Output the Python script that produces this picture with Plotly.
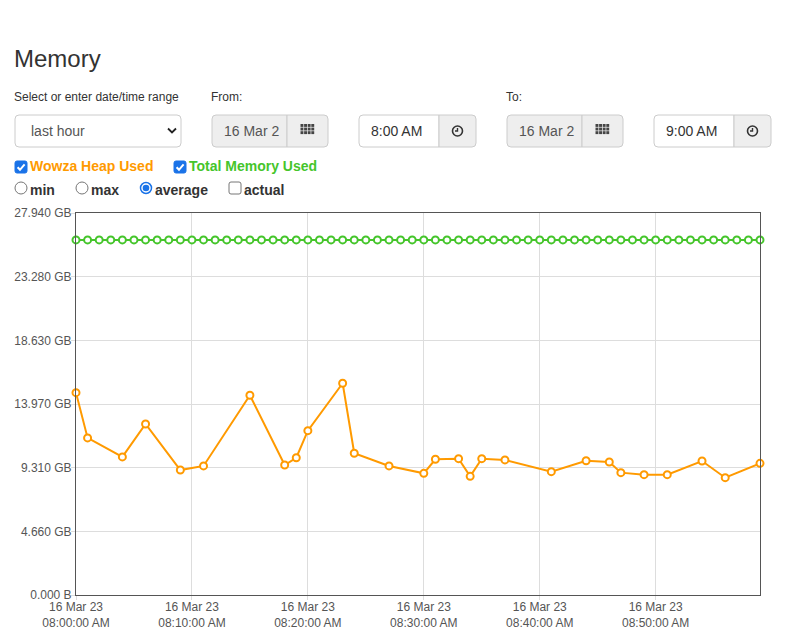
import plotly.graph_objects as go

# minutes after 08:00 on 16 Mar 23
heap_minutes = [0, 1, 4, 6, 9, 11, 15, 18, 19, 20, 23, 24, 27, 30, 31, 33, 34, 35,
                37, 41, 44, 46, 47, 49, 51, 54, 56, 59]
heap_gb = [14.80, 11.49, 10.10, 12.51, 9.14, 9.44, 14.61, 9.51, 10.04, 12.02, 15.49,
           10.37, 9.44, 8.90, 9.93, 9.97, 8.68, 9.97, 9.88, 9.02, 9.82, 9.73, 8.95,
           8.80, 8.80, 9.80, 8.58, 9.63]

total_minutes = [0, 1, 2, 3, 4, 5, 6, 7, 8, 9, 10, 11, 12, 13, 14, 15, 16, 17, 18, 19,
                 20, 21, 22, 23, 24, 25, 26, 27, 28, 29, 30, 31, 32, 33, 34, 35, 36, 37,
                 38, 39, 40, 41, 42, 43, 44, 45, 46, 47, 48, 49, 50, 51, 52, 53, 54, 55,
                 56, 57, 58, 59]
total_gb = [25.97, 25.97, 25.97, 25.97, 25.97, 25.97, 25.97, 25.97, 25.97, 25.97,
            25.97, 25.97, 25.97, 25.97, 25.97, 25.97, 25.97, 25.97, 25.97, 25.97,
            25.97, 25.97, 25.97, 25.97, 25.97, 25.97, 25.97, 25.97, 25.97, 25.97,
            25.97, 25.97, 25.97, 25.97, 25.97, 25.97, 25.97, 25.97, 25.97, 25.97,
            25.97, 25.97, 25.97, 25.97, 25.97, 25.97, 25.97, 25.97, 25.97, 25.97,
            25.97, 25.97, 25.97, 25.97, 25.97, 25.97, 25.97, 25.97, 25.97, 25.97]

y_ticks = [0, 4.6567, 9.3133, 13.97, 18.6267, 23.2833, 27.94]
y_labels = ['0.000 B', '4.660 GB', '9.310 GB', '13.970 GB', '18.630 GB', '23.280 GB', '27.940 GB']
x_ticks = [0, 10, 20, 30, 40, 50]
x_labels = ['16 Mar 23<br>08:00:00 AM', '16 Mar 23<br>08:10:00 AM', '16 Mar 23<br>08:20:00 AM',
            '16 Mar 23<br>08:30:00 AM', '16 Mar 23<br>08:40:00 AM', '16 Mar 23<br>08:50:00 AM']

ORANGE = '#ff9a00'
GREEN = '#45c52b'
BLUE = '#1a73e8'
FONT = 'Liberation Sans, Arial, sans-serif'

# page body margin pushes the figure 8px right and down
OFF = 8
W, H = 787, 634
# plot area in page pixels
L, R, T, B = 76, 760, 213, 595


def px(x):
    return (x - L) / (R - L)


def py(y):
    return (B - y) / (B - T)


def rrect(x0, y0, x1, y1, r=4):
    # rounded rectangle path in paper coords
    pts = [
        f'M{px(x0 + r)},{py(y0)}', f'L{px(x1 - r)},{py(y0)}', f'Q{px(x1)},{py(y0)} {px(x1)},{py(y0 + r)}',
        f'L{px(x1)},{py(y1 - r)}', f'Q{px(x1)},{py(y1)} {px(x1 - r)},{py(y1)}',
        f'L{px(x0 + r)},{py(y1)}', f'Q{px(x0)},{py(y1)} {px(x0)},{py(y1 - r)}',
        f'L{px(x0)},{py(y0 + r)}', f'Q{px(x0)},{py(y0)} {px(x0 + r)},{py(y0)}', 'Z']
    return ' '.join(pts)


def left_round(x0, y0, x1, y1, r=4):
    pts = [f'M{px(x0 + r)},{py(y0)}', f'L{px(x1)},{py(y0)}', f'L{px(x1)},{py(y1)}',
           f'L{px(x0 + r)},{py(y1)}', f'Q{px(x0)},{py(y1)} {px(x0)},{py(y1 - r)}',
           f'L{px(x0)},{py(y0 + r)}', f'Q{px(x0)},{py(y0)} {px(x0 + r)},{py(y0)}', 'Z']
    return ' '.join(pts)


def right_round(x0, y0, x1, y1, r=4):
    pts = [f'M{px(x0)},{py(y0)}', f'L{px(x1 - r)},{py(y0)}', f'Q{px(x1)},{py(y0)} {px(x1)},{py(y0 + r)}',
           f'L{px(x1)},{py(y1 - r)}', f'Q{px(x1)},{py(y1)} {px(x1 - r)},{py(y1)}',
           f'L{px(x0)},{py(y1)}', 'Z']
    return ' '.join(pts)


shapes = []
annotations = []


def text(x, y, s, size=12, color='#333', bold=False):
    if bold:
        s = f'<b>{s}</b>'
    annotations.append(dict(x=px(x - 3), y=py(y), xref='paper', yref='paper', text=s,
                            showarrow=False, xanchor='left', yanchor='middle',
                            font=dict(family=FONT, size=size, color=color)))


def path(p, fill=None, line='#ccc', width=1):
    shapes.append(dict(type='path', xref='paper', yref='paper', path=p,
                       fillcolor=fill if fill else 'rgba(0,0,0,0)',
                       line=dict(color=line, width=width), layer='above'))


def calendar(cx, cy):
    for r in range(3):
        for c in range(4):
            x0 = cx - 7 + c * 3.6
            y0 = cy - 5.5 + r * 3.6
            shapes.append(dict(type='rect', xref='paper', yref='paper',
                               x0=px(x0), x1=px(x0 + 2.9), y0=py(y0), y1=py(y0 + 2.9),
                               fillcolor='#444', line=dict(width=0), layer='above'))


def clock(cx, cy):
    shapes.append(dict(type='circle', xref='paper', yref='paper',
                       x0=px(cx - 5), x1=px(cx + 5), y0=py(cy - 5), y1=py(cy + 5),
                       line=dict(color='#333', width=1.6), layer='above'))
    path(f'M{px(cx)},{py(cy - 3)} L{px(cx)},{py(cy)} L{px(cx - 2.5)},{py(cy)}', line='#333', width=1.4)


def checkbox(x0, y0, checked=True):
    if checked:
        path(rrect(x0, y0, x0 + 12, y0 + 12, 2), fill=BLUE, line=BLUE)
        path(f'M{px(x0 + 2.6)},{py(y0 + 6.2)} L{px(x0 + 5)},{py(y0 + 8.8)} L{px(x0 + 9.6)},{py(y0 + 3.4)}',
             line='white', width=2)
    else:
        path(rrect(x0, y0, x0 + 12, y0 + 12, 2), fill='white', line='#767676')


def radio(cx, cy, selected=False):
    if selected:
        shapes.append(dict(type='circle', xref='paper', yref='paper',
                           x0=px(cx - 5.5), x1=px(cx + 5.5), y0=py(cy - 5.5), y1=py(cy + 5.5),
                           fillcolor='white', line=dict(color=BLUE, width=1.5), layer='above'))
        shapes.append(dict(type='circle', xref='paper', yref='paper',
                           x0=px(cx - 3.3), x1=px(cx + 3.3), y0=py(cy - 3.3), y1=py(cy + 3.3),
                           fillcolor=BLUE, line=dict(width=0), layer='above'))
    else:
        shapes.append(dict(type='circle', xref='paper', yref='paper',
                           x0=px(cx - 6), x1=px(cx + 6), y0=py(cy - 6), y1=py(cy + 6),
                           fillcolor='white', line=dict(color='#767676', width=1), layer='above'))


# header
text(15, 58, 'Memory', size=24)
text(15, 97, 'Select or enter date/time range')
text(212, 97, 'From:')
text(507, 97, 'To:')

# range dropdown
path(rrect(15, 115, 181, 147), fill='white')
text(32, 131, 'last hour', size=14, color='#555')
path(f'M{px(168)},{py(128.5)} L{px(172)},{py(132.5)} L{px(176)},{py(128.5)}', line='#222', width=1.8)

# date / time inputs
for x0, xd, x1, date_txt in [(212, 287, 328, '16 Mar 2'), (507, 582, 623, '16 Mar 2')]:
    path(left_round(x0, 115, xd, 147), fill='#eee')
    path(right_round(xd, 115, x1, 147), fill='#eee')
    text(x0 + 13, 131, date_txt, size=14, color='#555')
    calendar((xd + x1) / 2, 129.5)
for x0, xd, x1, time_txt in [(359, 439, 476, '8:00 AM'), (654, 734, 771, '9:00 AM')]:
    path(left_round(x0, 115, xd, 147), fill='white')
    path(right_round(xd, 115, x1, 147), fill='#eee')
    text(x0 + 13, 131, time_txt, size=14, color='#333')
    clock((xd + x1) / 2, 131)

# series toggles
checkbox(15, 161)
text(31, 166, 'Wowza Heap Used', size=14, color=ORANGE, bold=True)
checkbox(174, 161)
text(190, 166, 'Total Memory Used', size=14, color=GREEN, bold=True)

radio(21, 188)
text(31, 190, 'min', size=14, bold=True)
radio(82, 188)
text(92, 190, 'max', size=14, bold=True)
radio(146, 188, selected=True)
text(156, 190, 'average', size=14, bold=True)
checkbox(229, 182, checked=False)
text(245, 190, 'actual', size=14, bold=True)

fig = go.Figure()
fig.add_trace(go.Scatter(
    x=heap_minutes, y=heap_gb, mode='lines+markers', name='Wowza Heap Used',
    line=dict(color=ORANGE, width=2),
    marker=dict(size=7, color='white', line=dict(color=ORANGE, width=2)),
    cliponaxis=False))
fig.add_trace(go.Scatter(
    x=total_minutes, y=total_gb, mode='lines+markers', name='Total Memory Used',
    line=dict(color=GREEN, width=2),
    marker=dict(size=7, color='white', line=dict(color=GREEN, width=2)),
    cliponaxis=False))

fig.update_layout(
    width=W, height=H,
    margin=dict(l=L - OFF, r=W - R + OFF, t=T - OFF, b=H - B + OFF, pad=0),
    paper_bgcolor='white', plot_bgcolor='white',
    showlegend=False,
    font=dict(family=FONT, size=12, color='#555'),
    shapes=shapes, annotations=annotations,
    xaxis=dict(range=[0, 59], tickvals=x_ticks, ticktext=x_labels, automargin=False,
               showgrid=True, gridcolor='#ddd', gridwidth=1,
               showline=True, linecolor='#555', linewidth=1, mirror=True,
               ticks='outside', ticklen=4, tickcolor='#ddd', zeroline=False,
               ticklabelstandoff=-3,
               tickfont=dict(size=12, color='#555')),
    yaxis=dict(range=[0, 27.94], tickvals=y_ticks, ticktext=y_labels, automargin=False,
               showgrid=True, gridcolor='#ddd', gridwidth=1,
               showline=True, linecolor='#555', linewidth=1, mirror=True,
               ticks='outside', ticklen=4, tickcolor='#ddd', zeroline=False,
               ticklabelstandoff=-3,
               tickfont=dict(size=12, color='#555')),
)

fig.write_html('out.html')
